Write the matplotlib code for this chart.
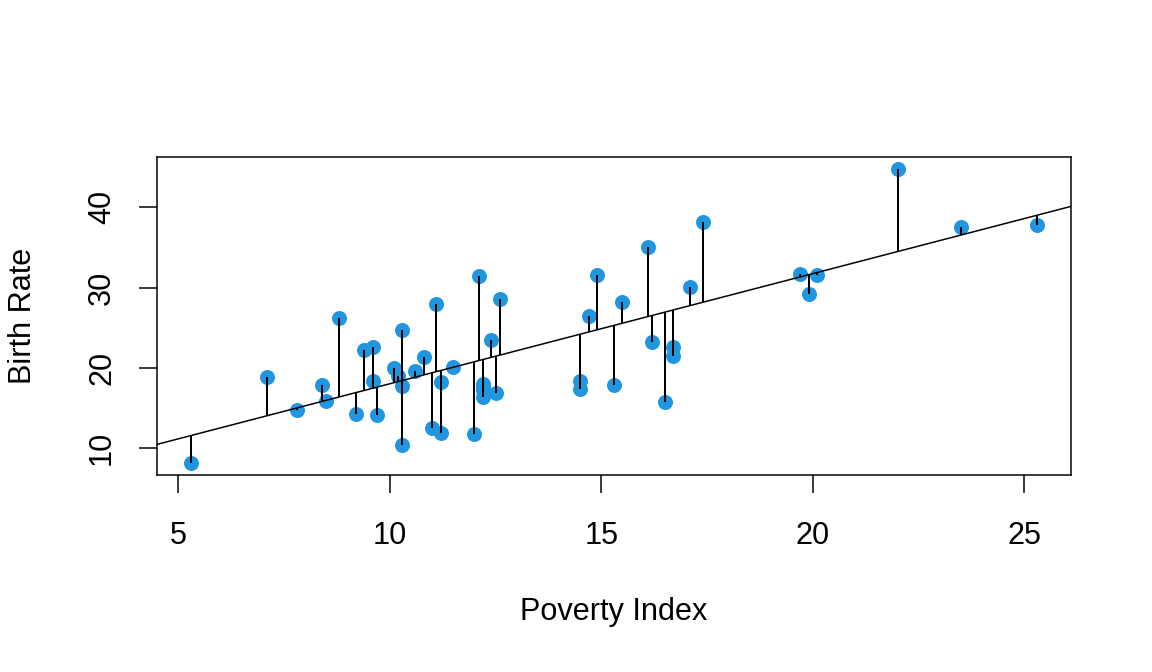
import numpy as np
import matplotlib
matplotlib.use("Agg")
import matplotlib.pyplot as plt

# Poverty index and birth rate (ages 15-17) by state
poverty = [20.1, 7.1, 16.1, 14.9, 16.7, 8.8, 9.7, 10.3, 22.0, 16.2,
           12.1, 10.3, 14.5, 12.4, 9.6, 12.2, 10.8, 14.7, 19.7, 11.2,
           10.1, 11.0, 12.2, 9.2, 23.5, 9.4, 15.3, 9.6, 11.1, 5.3,
           7.8, 25.3, 16.5, 12.6, 12.0, 11.5, 17.1, 11.2, 12.2, 10.6,
           19.9, 14.5, 15.5, 17.4, 8.4, 10.3, 10.2, 12.5, 16.7, 8.5, 12.2]
birth = [31.5, 18.9, 35.0, 31.6, 22.6, 26.2, 14.1, 24.7, 44.8, 23.2,
         31.4, 17.7, 18.4, 23.4, 22.6, 16.4, 21.4, 26.5, 31.7, 11.9,
         20.0, 12.5, 18.0, 14.2, 37.6, 22.2, 17.8, 18.3, 28.0, 8.1,
         14.7, 37.8, 15.7, 28.6, 11.7, 20.1, 30.1, 18.2, 17.2, 19.6,
         29.2, 17.3, 28.2, 38.2, 17.8, 10.4, 19.0, 16.8, 21.5, 15.9, 17.7]

x = np.array(poverty)
y = np.array(birth)

# least squares fit, like lm(birth ~ poverty)
slope, intercept = np.polyfit(x, y, 1)
fitted = intercept + slope * x

FS = 15.3
plt.rcParams['font.family'] = ['Liberation Sans', 'DejaVu Sans']
plt.rcParams['font.size'] = FS

fig = plt.figure(figsize=(8, 672 / 144), dpi=144)
ax = fig.add_axes([157 / 1152, 1 - 475 / 672, (1071 - 157) / 1152, (475 - 157) / 672])

ax.plot(x, y, 'o', color='#2196E0', markersize=7.5, markeredgewidth=0, zorder=2)
ax.axline((0, intercept), slope=slope, color='black', lw=0.75, zorder=3)
ax.vlines(x, y, fitted, color='black', lw=1.0, zorder=4)

# R style axis ranges (4% padding)
xr = x.max() - x.min()
yr = y.max() - y.min()
ax.set_xlim(x.min() - 0.04 * xr, x.max() + 0.04 * xr)
ax.set_ylim(y.min() - 0.04 * yr, y.max() + 0.04 * yr)

ax.set_xticks([5, 10, 15, 20, 25])
ax.set_yticks([10, 20, 30, 40])
ax.tick_params(axis='both', direction='out', length=9, width=0.75, labelsize=FS)
ax.tick_params(axis='x', pad=14)
ax.tick_params(axis='y', pad=11)
for lbl in ax.get_yticklabels():
    lbl.set_rotation(90)
    lbl.set_va('center')
for sp in ax.spines.values():
    sp.set_linewidth(0.75)

ax.set_xlabel('Poverty Index', fontsize=FS)
ax.set_ylabel('Birth Rate', fontsize=FS)
ax.xaxis.set_label_coords(0.5, -(612 - 475) / 318)
ax.xaxis.label.set_va('center')
ax.yaxis.set_label_coords(-(157 - 23) / 914, 0.5)
ax.yaxis.label.set_va('center')

fig.savefig('out.png', dpi=144)
